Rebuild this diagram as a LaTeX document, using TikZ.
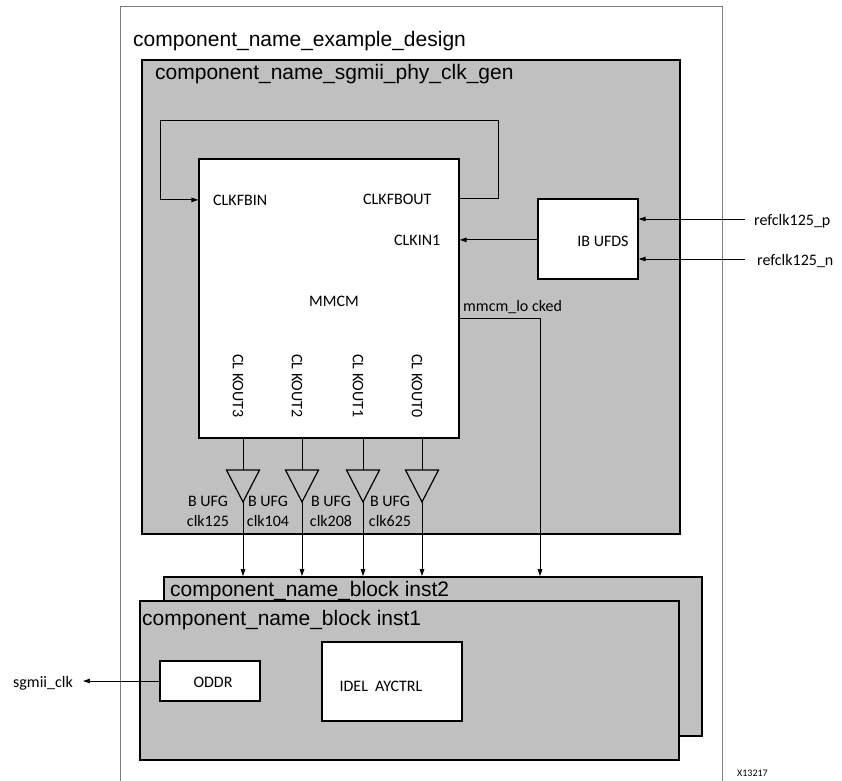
\documentclass[tikz,border=0pt]{standalone}
\usepackage{fontspec}
\setmainfont{Liberation Sans}
\newfontfamily\pinfont{Carlito}
\usetikzlibrary{arrows.meta}
\definecolor{figGrey}{HTML}{C0C0C0}
\definecolor{figFrame}{HTML}{7F7F7F}
\tikzset{
  grp/.style={draw,line width=1.6pt,fill=figGrey,inner sep=0pt},
  blk/.style={draw,line width=1.3pt,fill=white,inner sep=0pt},
  ttl/.style={font=\fontsize{21}{24}\selectfont,inner sep=0pt,anchor=base west},
  pin/.style={font=\pinfont\fontsize{16}{19}\selectfont,inner sep=0pt},
  wire/.style={line width=0.9pt},
}
\begin{document}
\begin{tikzpicture}[x=1pt,y=-1pt,>={Triangle[length=7pt,width=4.5pt]}]
\useasboundingbox (0,0) rectangle (842,780);
\draw[figFrame,line width=1pt] (120,783) -- (120,6) -- (722,6) -- (722,783);
\node[ttl] (design) at (133,46.5) {component\_name\_example\_design};
\node[grp,minimum width=538,minimum height=474] (clkgen) at (411,297) {};
\node[ttl] (clkgentitle) at (155,79) {component\_name\_sgmii\_phy\_clk\_gen};
\node[grp,minimum width=538,minimum height=159] (inst2) at (433,656.5) {};
\node[ttl] (inst2title) at (170,596) {component\_name\_block inst2};
\node[grp,minimum width=539,minimum height=159] (inst1) at (409.5,680.5) {};
\node[ttl] (inst1title) at (142,625) {component\_name\_block inst1};

\node[blk,minimum width=260,minimum height=279] (mmcm) at (329,298.5) {};
\node[pin,anchor=base west] (clkfbin) at (213,205) {CLKFBIN};
\node[pin,anchor=base west] (clkfbout) at (363,204) {CLKFBOUT};
\node[pin,anchor=base west] (clkin) at (394,245) {CLKIN1};
\node[pin,anchor=base] (mmcmtxt) at (334,306) {MMCM};
\coordinate (fbR) at (498,120);
\coordinate (fbL) at (160,120);
\draw[wire,->] (mmcm.east |- clkfbout) -| (fbR) -- (fbL) |- (mmcm.west |- clkfbin);

\node[blk,minimum width=100,minimum height=80] (ibufds) at (588,239) {};
\node[pin,anchor=base] (ibufdstxt) at (603,246) {IB UFDS};
\draw[wire,->] (ibufds.west |- clkin) -- (mmcm.east |- clkin);
\node[pin,anchor=base west] (refp) at (754,225) {refclk125\_p};
\node[pin,anchor=base west] (refn) at (757,265) {refclk125\_n};
\draw[wire,->] ([shift={(-9pt,6pt)}]refp.base west) coordinate (rp) -- (rp -| ibufds.east);
\draw[wire,->] ([shift={(-12pt,6pt)}]refn.base west) coordinate (rn) -- (rn -| ibufds.east);

\node[pin,anchor=base west] (locked) at (463,311) {mmcm\_lo cked};
\coordinate (lockbend) at (540,318);
\draw[wire,->] (mmcm.east |- lockbend) -| (inst2.north -| lockbend);

\foreach \n/\x/\lx/\clk in {3/243/208/125,2/302/268/104,1/363/331/208,0/422/390/625}{
  \node[pin,rotate=-90] (out\n) at (\x-5,386) {CL KOUT\n};
  \coordinate (bt\n) at (\x,470);
  \coordinate (bp\n) at (\x,502);
  \draw[wire] (mmcm.south -| bt\n) -- (bt\n);
  \draw[line width=1.2pt,fill=figGrey] (\x-16.5,470) -- (\x+16.5,470) -- (bp\n) -- cycle;
  \draw[wire,->] (bp\n) -- (bp\n |- inst2.north);
  \node[pin,anchor=base] (bufg\n) at (\lx,506) {B UFG};
  \node[pin,anchor=base] (clk\n) at (\lx,526) {clk\clk};
}

\node[blk,minimum width=100,minimum height=40] (oddr) at (210,681) {};
\node[pin,anchor=base] (oddrtxt) at (213,687) {ODDR};
\node[blk,minimum width=140,minimum height=79] (idelay) at (392,681.5) {};
\node[pin,anchor=base] (idelaytxt) at (381,691) {IDEL\ \ AYCTRL};
\node[pin,anchor=base west] (sgmii) at (13,687) {sgmii\_clk};
\draw[wire,->,shorten >=10pt] (oddr.west) -- (oddr.west -| sgmii.east);

\node[pin,font=\pinfont\fontsize{10}{12}\selectfont,anchor=base west] (fignum) at (737,776) {X13217};
\end{tikzpicture}
\end{document}
